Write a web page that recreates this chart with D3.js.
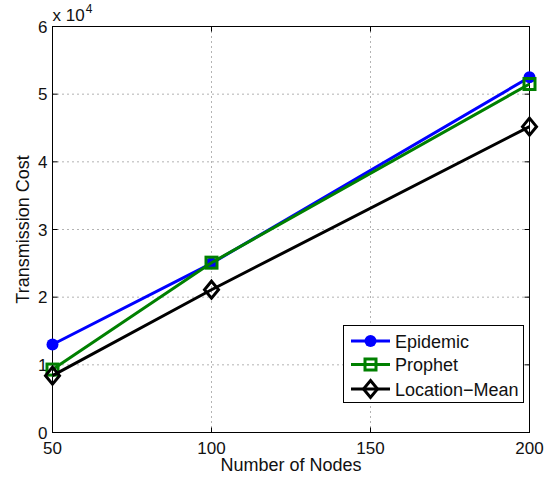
<!DOCTYPE html>
<html>
<head>
<meta charset="utf-8">
<script src="https://cdn.jsdelivr.net/npm/d3@7"></script>
<style>
  body { margin: 0; background: #fff; }
  text { font-family: "Liberation Sans", Arial, sans-serif; fill: #111; }
</style>
</head>
<body>
<svg width="558" height="478"></svg>
<script>
// chart data
const nodes = [50, 100, 200];
const epidemic = [13000, 25000, 52500];
const prophet = [9300, 25100, 51500];
const locationMean = [8400, 21100, 45200];
const xTicks = [50, 100, 150, 200];
const yTicks = [0, 1, 2, 3, 4, 5, 6];

const series = [
  {name: "Epidemic", values: epidemic, color: "#0000ff", marker: "circle"},
  {name: "Prophet", values: prophet, color: "#008000", marker: "square"},
  {name: "Location\u2212Mean", values: locationMean, color: "#000000", marker: "diamond"}
];

const svg = d3.select("svg");
const pL = 52.5, pR = 529.5, pT = 26.5, pB = 432.5;

const x = d3.scaleLinear().domain([50, 200]).range([pL, pR]);
const y = d3.scaleLinear().domain([0, 60000]).range([pB, pT]);

// grid
const grid = svg.append("g");
xTicks.slice(1, -1).forEach(t => {
  grid.append("line").attr("x1", x(t)).attr("x2", x(t)).attr("y1", pT).attr("y2", pB)
    .attr("stroke", "#666").attr("stroke-dasharray", "1,4");
});
yTicks.slice(1, -1).forEach(t => {
  grid.append("line").attr("x1", pL).attr("x2", pR).attr("y1", y(t * 1e4)).attr("y2", y(t * 1e4))
    .attr("stroke", "#666").attr("stroke-dasharray", "1,4");
});

// box + inner ticks
svg.append("rect").attr("x", pL).attr("y", pT).attr("width", pR - pL).attr("height", pB - pT)
  .attr("fill", "none").attr("stroke", "#000").attr("stroke-width", 1);
xTicks.forEach(t => {
  svg.append("line").attr("x1", x(t)).attr("x2", x(t)).attr("y1", pB).attr("y2", pB - 5).attr("stroke", "#000");
  svg.append("line").attr("x1", x(t)).attr("x2", x(t)).attr("y1", pT).attr("y2", pT + 5).attr("stroke", "#000");
  svg.append("text").attr("x", x(t)).attr("y", pB + 21).attr("text-anchor", "middle")
    .style("font-size", "17px").text(t);
});
yTicks.forEach(t => {
  svg.append("line").attr("x1", pL).attr("x2", pL + 5).attr("y1", y(t * 1e4)).attr("y2", y(t * 1e4)).attr("stroke", "#000");
  svg.append("line").attr("x1", pR).attr("x2", pR - 5).attr("y1", y(t * 1e4)).attr("y2", y(t * 1e4)).attr("stroke", "#000");
  svg.append("text").attr("x", pL - 5).attr("y", y(t * 1e4) + 6).attr("text-anchor", "end")
    .style("font-size", "17px").text(t);
});

// exponent label
const ex = svg.append("text").attr("x", pL).attr("y", 21).style("font-size", "17px");
ex.append("tspan").text("x 10");
ex.append("tspan").attr("dx", 1).attr("dy", -8).style("font-size", "12px").text("4");

// axis labels
svg.append("text").attr("x", (pL + pR) / 2).attr("y", 471).attr("text-anchor", "middle")
  .style("font-size", "18px").text("Number of Nodes");
svg.append("text").attr("transform", `translate(29,${(pT + pB) / 2}) rotate(-90)`)
  .attr("text-anchor", "middle").style("font-size", "18px").text("Transmission Cost");

function drawMarker(g, type, cx, cy, color) {
  if (type === "circle") {
    g.append("circle").attr("cx", cx).attr("cy", cy).attr("r", 6).attr("fill", color);
  } else if (type === "square") {
    g.append("rect").attr("x", cx - 5.5).attr("y", cy - 5.5).attr("width", 11).attr("height", 11)
      .attr("fill", "none").attr("stroke", color).attr("stroke-width", 3);
  } else {
    g.append("path").attr("d", `M${cx},${cy - 8.5}L${cx + 7},${cy}L${cx},${cy + 8.5}L${cx - 7},${cy}Z`)
      .attr("fill", "none").attr("stroke", color).attr("stroke-width", 3);
  }
}

const line = d3.line().x((d, i) => x(nodes[i])).y(d => y(d));
series.forEach(s => {
  const g = svg.append("g");
  g.append("path").datum(s.values).attr("d", line).attr("fill", "none")
    .attr("stroke", s.color).attr("stroke-width", 3);
  s.values.forEach((v, i) => drawMarker(g, s.marker, x(nodes[i]), y(v), s.color));
});

// legend
const lg = svg.append("g");
lg.append("rect").attr("x", 343.5).attr("y", 325.5).attr("width", 180).attr("height", 77)
  .attr("fill", "#fff").attr("stroke", "#000");
const legendY = [341, 364.5, 389];
series.forEach((s, i) => {
  const ly = legendY[i];
  lg.append("line").attr("x1", 351).attr("x2", 390).attr("y1", ly).attr("y2", ly)
    .attr("stroke", s.color).attr("stroke-width", 3);
  drawMarker(lg, s.marker, 370.5, ly, s.color);
  lg.append("text").attr("x", 395).attr("y", ly + 6.5).style("font-size", "18px").text(s.name);
});
</script>
</body>
</html>
